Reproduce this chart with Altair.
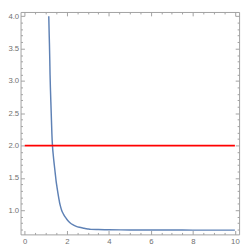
import altair as alt
import pandas as pd

# curve values
curve_x = [1.142, 1.16, 1.173, 1.19, 1.203, 1.225, 1.247, 1.27, 1.291, 1.318, 1.36, 1.405,
           1.45, 1.49, 1.535, 1.58, 1.62, 1.655, 1.70, 1.75, 1.80, 1.86, 1.92, 2.0, 2.09,
           2.18, 2.3, 2.45, 2.6, 2.8, 3.0, 3.15, 3.5, 4.0, 5.0, 6.0, 7.0, 8.0, 10.0]
curve_y = [4.0, 3.75, 3.585, 3.33, 3.10, 2.84, 2.617, 2.39, 2.18, 2.0, 1.84, 1.70,
           1.57, 1.456, 1.355, 1.263, 1.185, 1.12, 1.06, 1.005, 0.965, 0.928, 0.897, 0.862, 0.828,
           0.80, 0.775, 0.752, 0.737, 0.723, 0.711, 0.705, 0.702, 0.699, 0.696, 0.694, 0.694, 0.693, 0.693]
line_x = [0, 10]
line_y = [2, 2]

x_major = [0, 2, 4, 6, 8, 10]
x_minor = [v / 2 for v in range(0, 21) if v % 4 != 0]
y_major = [1.0, 1.5, 2.0, 2.5, 3.0, 3.5, 4.0]
y_minor = [round(v / 10, 1) for v in range(7, 41) if v % 5 != 0]

X_DOMAIN = [-0.2, 10.2]
Y_DOMAIN = [0.627, 4.066]
W, H = 226, 230
FRAME = "#A0A0A0"
LABEL = "#707070"
FONT = "Liberation Sans"

curve = pd.DataFrame({"x": curve_x, "y": curve_y})
hline = pd.DataFrame({"x": line_x, "y": line_y})


def xs(axis):
    return alt.X("x:Q", scale=alt.Scale(domain=X_DOMAIN, nice=False, zero=False), axis=axis, title=None)


def ys(axis):
    return alt.Y("y:Q", scale=alt.Scale(domain=Y_DOMAIN, nice=False, zero=False), axis=axis, title=None)


def tick_axis(orient, offset, values, size, domain=False):
    return alt.Axis(orient=orient, offset=offset, values=values, tickSize=size, labels=False,
                    domain=domain, domainColor=FRAME, tickColor=FRAME, grid=False, title=None)


l1 = alt.Chart(curve).mark_line(color="#5E81B5", strokeWidth=1.5, interpolate="monotone").encode(
    x=xs(alt.Axis(orient="bottom", values=x_major, ticks=False, labelFontSize=8, labelColor=LABEL,
                  labelFont=FONT, labelPadding=3, domainColor=FRAME, grid=False)),
    y=ys(alt.Axis(orient="left", values=y_major, format=".1f", ticks=False, labelFontSize=8,
                  labelColor=LABEL, labelFont=FONT, labelPadding=2, domainColor=FRAME, grid=False)),
)
l2 = alt.Chart(hline).mark_line(color="#FF0000", strokeWidth=2).encode(
    x=xs(tick_axis("top", -H, x_major, 4)),
    y=ys(tick_axis("right", -W, y_major, 4)),
)
l3 = alt.Chart(hline).mark_line(opacity=0).encode(
    x=xs(tick_axis("top", -H, x_minor, 2)),
    y=ys(tick_axis("right", -W, y_minor, 2)),
)
l4 = alt.Chart(hline).mark_line(opacity=0).encode(
    x=xs(tick_axis("bottom", -H, x_major, 4, True)),
    y=ys(tick_axis("left", -W, y_major, 4, True)),
)
l5 = alt.Chart(hline).mark_line(opacity=0).encode(
    x=xs(tick_axis("bottom", -H, x_minor, 2)),
    y=ys(tick_axis("left", -W, y_minor, 2)),
)

chart = alt.layer(l3, l5, l4, l1, l2).resolve_axis(x="independent", y="independent").properties(
    width=W, height=H,
    autosize=alt.AutoSizeParams(type="none"),
    padding={"left": 13, "top": 0, "right": 3, "bottom": 12},
).configure_view(stroke=None)

chart.save("out.html", embed_options={"renderer": "svg", "actions": False})
